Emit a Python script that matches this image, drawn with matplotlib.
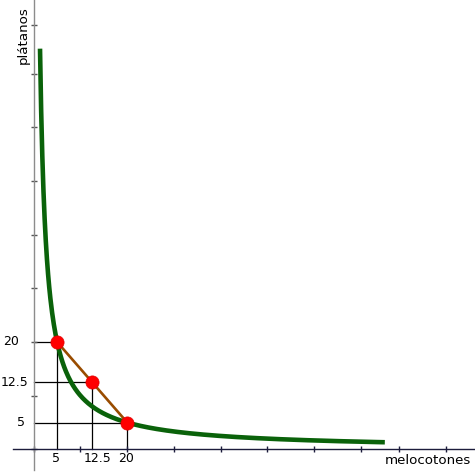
import numpy as np
import matplotlib
matplotlib.use("Agg")
import matplotlib.pyplot as plt

# indifference curve x*y = U
utility = 100
curve_x_start, curve_x_end = 1.34, 75.1

# baskets on the curve / on the chord
basket_x = [5, 12.5, 20]
basket_y = [20, 12.5, 5]
basket_labels = ["5", "12.5", "20"]
ylabel_texts = ["20", "12.5", "5"]

# tick marks
xtick_vals = [0, 10, 20, 30, 40, 50, 60, 70, 78.2, 88.2]
ytick_vals = [0, 10, 20, 30, 40, 50, 60, 70, 79.0]

x_name = "melocotones"
y_name = "plátanos"

fig = plt.figure(figsize=(4.75, 4.72), dpi=100)
ax = fig.add_axes([0, 0, 1, 1])
ax.set_xlim(-7.22, 94.39)
ax.set_ylim(-4.21, 83.69)

# axes through origin
for s in ["top", "right"]:
    ax.spines[s].set_visible(False)
ax.spines["left"].set_position(("data", 0))
ax.spines["bottom"].set_position(("data", 0))
ax.spines["left"].set_bounds(-3.9, 83.69)
ax.spines["bottom"].set_bounds(-4.4, 94.39)
ax.spines["left"].set_color("#8c8c8c")
ax.spines["bottom"].set_color("#1c1c3c")
ax.spines["left"].set_linewidth(1.0)
ax.spines["bottom"].set_linewidth(1.0)

ax.set_xticks(xtick_vals)
ax.set_yticks(ytick_vals)
ax.tick_params(axis="x", direction="inout", length=5, width=1, color="#1c1c3c",
               labelbottom=False)
ax.tick_params(axis="y", direction="inout", length=5, width=1, color="#555555",
               labelleft=False)

# drop lines
for bx, by in zip(basket_x, basket_y):
    ax.plot([0, bx], [by, by], color="black", lw=0.9, zorder=1)
    ax.plot([bx, bx], [0, by], color="black", lw=0.9, zorder=1)

# curve
xs = np.linspace(curve_x_start, curve_x_end, 600)
ax.plot(xs, utility / xs, color="#0a620a", lw=3.3, solid_capstyle="butt", zorder=3)

# chord between baskets
ax.plot(basket_x, basket_y, color="#994c00", lw=1.9, zorder=4)
ax.plot(basket_x, basket_y, "o", color="#ff0000", markersize=9.5,
        markeredgecolor="#e00000", markeredgewidth=0.5, zorder=5)

# value labels
x_offsets = [-1, 3.5, -0.5]
for bx, lab, dx in zip(basket_x, basket_labels, x_offsets):
    ax.annotate(lab, (bx, 0), xytext=(dx, -6.5), textcoords="offset points",
                ha="center", va="center", fontsize=9)
y_offsets = [-16, -13.5, -9]
for by, lab, dx in zip(basket_y, ylabel_texts, y_offsets):
    ax.annotate(lab, (0, by), xytext=(dx, 0), textcoords="offset points",
                ha="center", va="center", fontsize=9)

ax.text(0.901, 0.0254, x_name, transform=ax.transAxes, ha="center", va="center",
        fontsize=9.6)
ax.text(0.0484, 0.926, y_name, transform=ax.transAxes, ha="center", va="center",
        rotation=90, fontsize=9.6)

fig.savefig("out.png", dpi=100)
